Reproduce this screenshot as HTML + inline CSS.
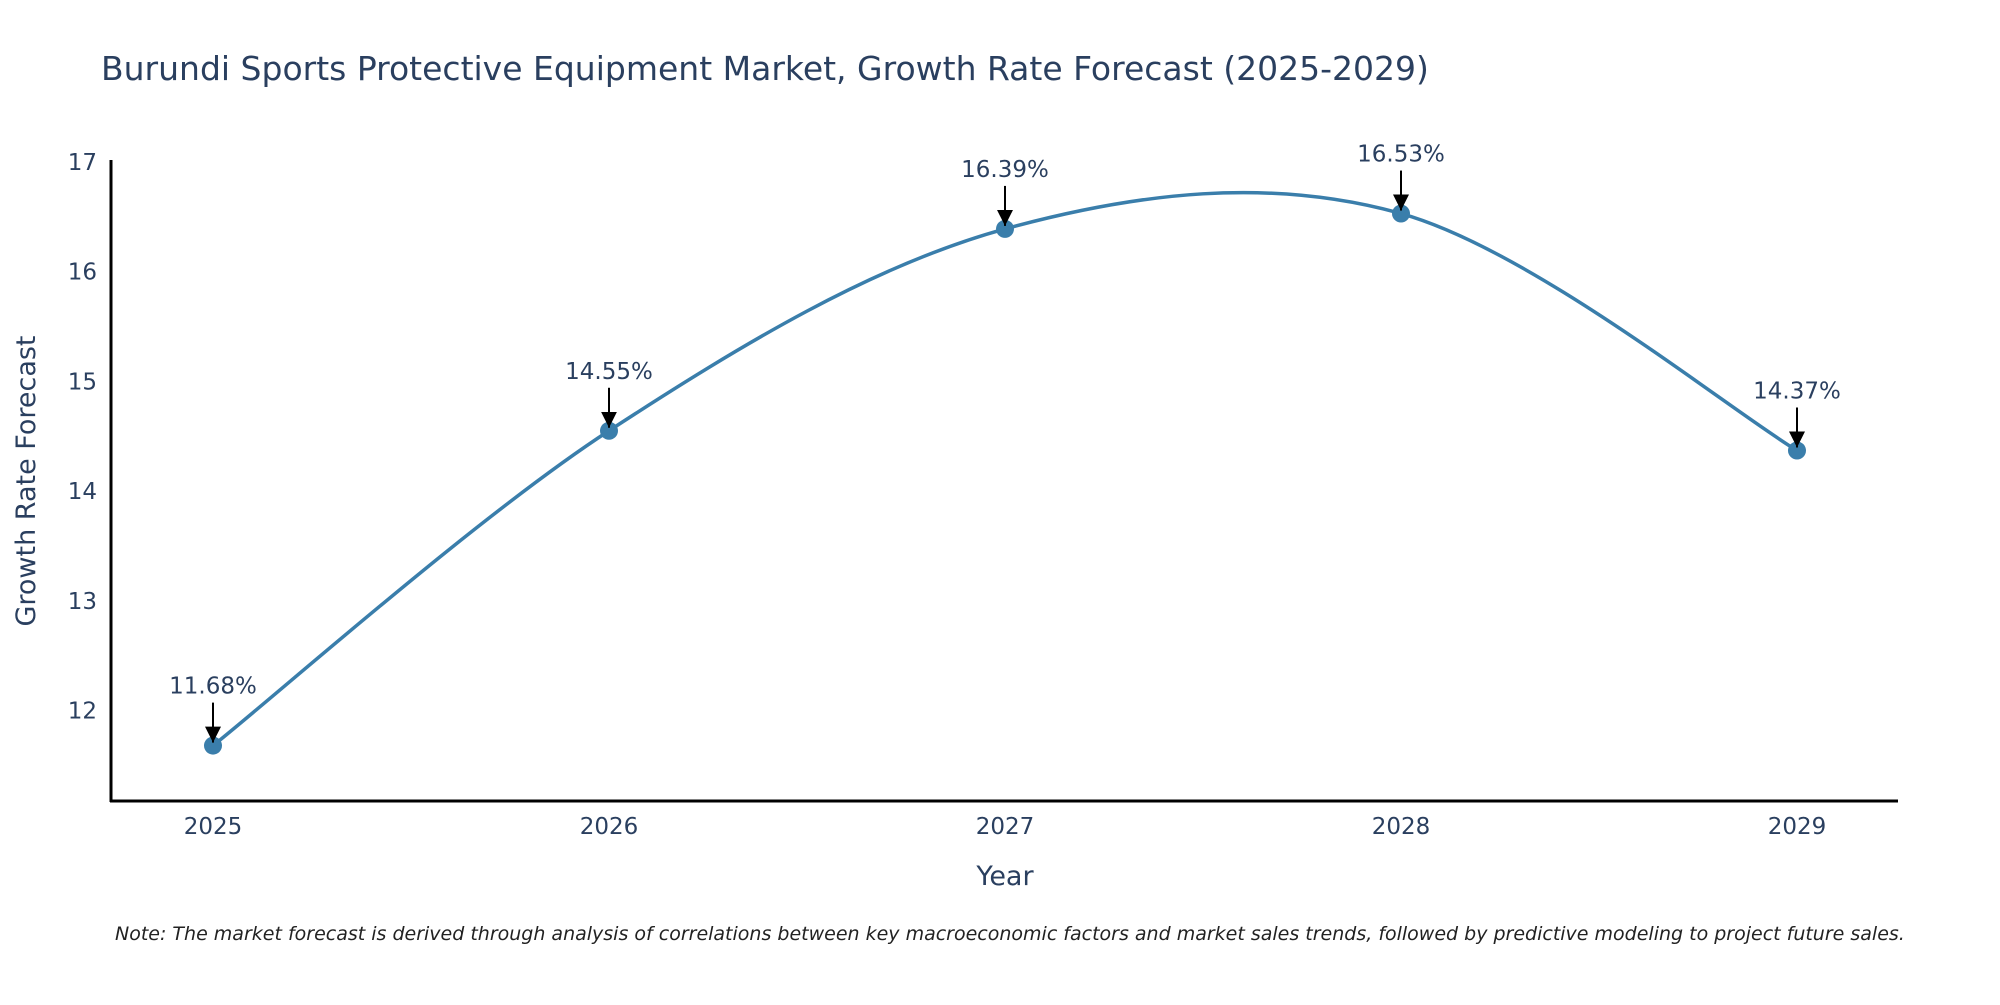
<!DOCTYPE html>
<html><head><meta charset="utf-8"><style>
body{margin:0;background:#fff}
svg text{font-family:"DejaVu Sans","Liberation Sans",sans-serif;fill:#2a3f5f}
</style></head><body>
<svg id="chart" width="2000" height="1000" viewBox="0 0 2000 1000" xmlns="http://www.w3.org/2000/svg">
<defs><marker id="ah" viewBox="0 0 10 10" refX="9" refY="5" markerWidth="8" markerHeight="8" markerUnits="userSpaceOnUse" orient="auto"><path d="M0,0L10,5L0,10z" fill="#000"/></marker>
<marker id="ah2" viewBox="0 0 10 10" refX="10" refY="5" markerWidth="16" markerHeight="16" markerUnits="userSpaceOnUse" orient="auto"><path d="M0,0L10,5L0,10z" fill="#000"/></marker></defs>
<text x="101" y="80" font-size="33">Burundi Sports Protective Equipment Market, Growth Rate Forecast (2025-2029)</text>
<g id="plot"></g>
<line x1="111" y1="160" x2="111" y2="802" stroke="#000" stroke-width="3"/>
<line x1="110" y1="801" x2="1898" y2="801" stroke="#000" stroke-width="3"/>
<text x="1005" y="885" font-size="27" text-anchor="middle">Year</text>
<text transform="translate(35,481) rotate(-90)" font-size="27" text-anchor="middle">Growth Rate Forecast</text>
<text x="115" y="940" font-size="19" font-style="italic" style="fill:#222">Note: The market forecast is derived through analysis of correlations between key macroeconomic factors and market sales trends, followed by predictive modeling to project future sales.</text>
</svg>
<script>
const years=[2025,2026,2027,2028,2029];
const values=[11.68,14.55,16.39,16.53,14.37];
const labels=["11.68%","14.55%","16.39%","16.53%","14.37%"];
const yTicks=[12,13,14,15,16,17];
const NS="http://www.w3.org/2000/svg";
const g=document.getElementById('plot');
function xs(v){return 213+(v-2025)*396;}
function ys(v){return 710.5-(v-12)*109.7;}
function mk(t,a){const e=document.createElementNS(NS,t);for(const k in a)e.setAttribute(k,a[k]);g.appendChild(e);return e;}
yTicks.forEach(t=>{
 const tk=mk('text',{x:97,y:ys(t)+8,'font-size':23,'text-anchor':'end'});tk.textContent=t;
 
 
});
years.forEach(y=>{
 const tk=mk('text',{x:xs(y),y:834,'font-size':23,'text-anchor':'middle'});tk.textContent=y;
 
 
});
const P=years.map((y,i)=>[xs(y),ys(values[i])]);
let d=`M${P[0][0]},${P[0][1]}`;
const s=0.5/3*2;
for(let i=0;i<P.length-1;i++){
 const p0=P[Math.max(i-1,0)],p1=P[i],p2=P[i+1],p3=P[Math.min(i+2,P.length-1)];
 const c1=[p1[0]+(p2[0]-p0[0])*s/2,p1[1]+(p2[1]-p0[1])*s/2];
 const c2=[p2[0]-(p3[0]-p1[0])*s/2,p2[1]-(p3[1]-p1[1])*s/2];
 d+=` C${c1[0]},${c1[1]} ${c2[0]},${c2[1]} ${p2[0]},${p2[1]}`;
}
const line=mk('path',{d:d,fill:'none',stroke:'#3a7eab','stroke-width':3.5});


P.forEach((p,i)=>{
 const c=mk('circle',{cx:p[0],cy:p[1],r:9,fill:'#3a7eab'});
 
 
 const a=mk('line',{x1:p[0],y1:p[1]-43,x2:p[0],y2:p[1]-3,stroke:'#000','stroke-width':2,'marker-end':'url(#ah2)'});
 
 
 const t=mk('text',{x:p[0],y:p[1]-52,'font-size':23,'text-anchor':'middle'});t.textContent=labels[i];
 
 
});
</script>
</body></html>
